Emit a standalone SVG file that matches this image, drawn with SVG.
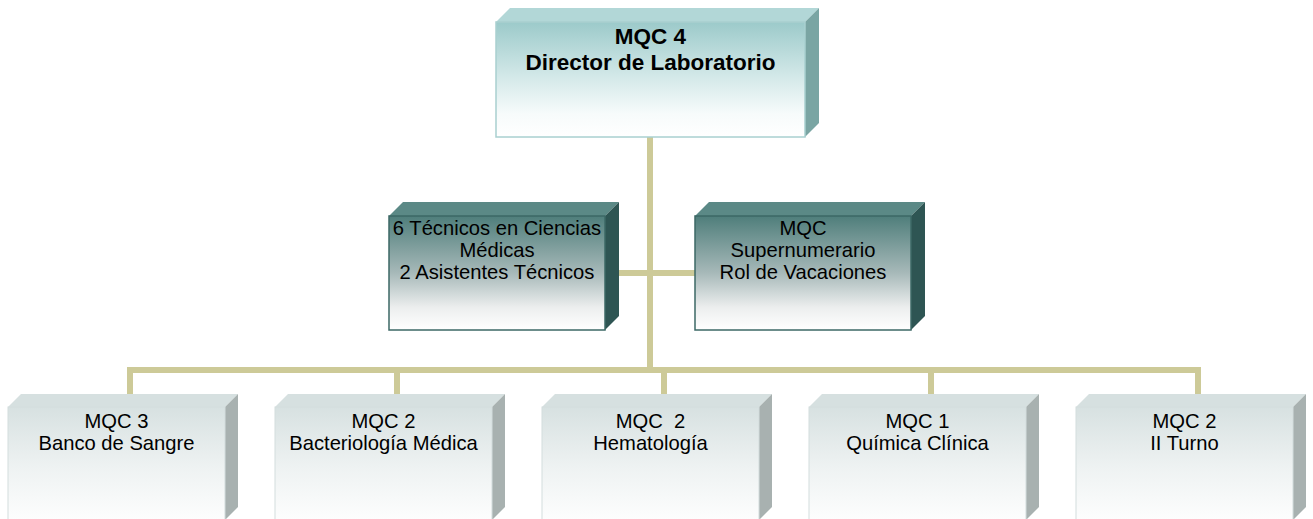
<svg xmlns="http://www.w3.org/2000/svg" width="1313" height="519" viewBox="0 0 1313 519">
<defs>
<linearGradient id="gTop" x1="0" y1="0" x2="0" y2="1">
<stop offset="0" stop-color="#9ccaca"/><stop offset="0.5" stop-color="#d6eaea"/><stop offset="0.8" stop-color="#f7fbfb"/><stop offset="1" stop-color="#ffffff"/>
</linearGradient>
<linearGradient id="gMid" x1="0" y1="0" x2="0" y2="1">
<stop offset="0" stop-color="#4f7e7b"/><stop offset="0.5" stop-color="#a7b9b9"/><stop offset="0.8" stop-color="#eceeee"/><stop offset="1" stop-color="#ffffff"/>
</linearGradient>
<linearGradient id="gBot" x1="0" y1="0" x2="0" y2="1">
<stop offset="0" stop-color="#d7e1e1"/><stop offset="0.5" stop-color="#eef2f2"/><stop offset="1" stop-color="#ffffff"/>
</linearGradient>
<style>
.conn{fill:#cdca98;stroke:none}
.tTop{fill:#b2d7d7}.rTop{fill:#7aa5a3}.fTop{fill:url(#gTop);stroke:#a9d0d0;stroke-width:1.5}
.tMid{fill:#5b8986}.rMid{fill:#2e5553}.fMid{fill:url(#gMid);stroke:#3c6866;stroke-width:1.5}
.tBot{fill:#d6e0e0}.rBot{fill:#a8b1b0}.fBot{fill:url(#gBot);stroke:#d3dddd;stroke-width:1}
text{font-family:"Liberation Sans",Arial,sans-serif;fill:#000;text-anchor:middle}
.b{font-weight:bold;font-size:22.5px}
.m{font-size:20.2px}
</style>
</defs>
<g id="connectors">
<rect class="conn" x="647" y="137" width="6" height="236"/>
<rect class="conn" x="605" y="270" width="90" height="6"/>
<rect class="conn" x="127" y="367" width="1074" height="6"/>
<rect class="conn" x="127" y="367" width="6" height="27"/>
<rect class="conn" x="394" y="367" width="6" height="27"/>
<rect class="conn" x="661" y="367" width="6" height="27"/>
<rect class="conn" x="928" y="367" width="6" height="27"/>
<rect class="conn" x="1195" y="367" width="6" height="27"/>
</g>
<g id="director">
<polygon class="tTop" points="496,22 510,8 819,8 805,22"/>
<polygon class="rTop" points="805,22 819,8 819,123 805,137"/>
<rect class="fTop" x="496" y="22" width="309" height="115"/>
<text class="b" x="650.5" y="44">MQC 4</text>
<text class="b" x="650.5" y="70">Director de Laboratorio</text>
</g>
<g id="tecnicos">
<polygon class="tMid" points="389,216 403,202 619,202 605,216"/>
<polygon class="rMid" points="605,216 619,202 619,316 605,330"/>
<rect class="fMid" x="389" y="216" width="216" height="114"/>
<text class="m" x="497" y="235">6 Técnicos en Ciencias</text>
<text class="m" x="497" y="257">Médicas</text>
<text class="m" x="497" y="279">2 Asistentes Técnicos</text>
</g>
<g id="supernumerario">
<polygon class="tMid" points="695,216 709,202 925,202 911,216"/>
<polygon class="rMid" points="911,216 925,202 925,316 911,330"/>
<rect class="fMid" x="695" y="216" width="216" height="114"/>
<text class="m" x="803" y="235">MQC</text>
<text class="m" x="803" y="257">Supernumerario</text>
<text class="m" x="803" y="279">Rol de Vacaciones</text>
</g>
<g id="banco">
<polygon class="tBot" points="8,407 21,394 238,394 225,407"/>
<polygon class="rBot" points="225,407 238,394 238,507 225,520"/>
<rect class="fBot" x="8" y="407" width="217" height="120"/>
<text class="m" x="116.5" y="428">MQC 3</text>
<text class="m" x="116.5" y="450">Banco de Sangre</text>
</g>
<g id="bacteriologia">
<polygon class="tBot" points="275,407 288,394 505,394 492,407"/>
<polygon class="rBot" points="492,407 505,394 505,507 492,520"/>
<rect class="fBot" x="275" y="407" width="217" height="120"/>
<text class="m" x="383.5" y="428">MQC 2</text>
<text class="m" x="383.5" y="450">Bacteriología Médica</text>
</g>
<g id="hematologia">
<polygon class="tBot" points="542,407 555,394 772,394 759,407"/>
<polygon class="rBot" points="759,407 772,394 772,507 759,520"/>
<rect class="fBot" x="542" y="407" width="217" height="120"/>
<text class="m" x="650.5" y="428" xml:space="preserve">MQC  2</text>
<text class="m" x="650.5" y="450">Hematología</text>
</g>
<g id="quimica">
<polygon class="tBot" points="809,407 822,394 1039,394 1026,407"/>
<polygon class="rBot" points="1026,407 1039,394 1039,507 1026,520"/>
<rect class="fBot" x="809" y="407" width="217" height="120"/>
<text class="m" x="917.5" y="428">MQC 1</text>
<text class="m" x="917.5" y="450">Química Clínica</text>
</g>
<g id="turno">
<polygon class="tBot" points="1076,407 1089,394 1306,394 1293,407"/>
<polygon class="rBot" points="1293,407 1306,394 1306,507 1293,520"/>
<rect class="fBot" x="1076" y="407" width="217" height="120"/>
<text class="m" x="1184.5" y="428">MQC 2</text>
<text class="m" x="1184.5" y="450">II Turno</text>
</g>
</svg>
